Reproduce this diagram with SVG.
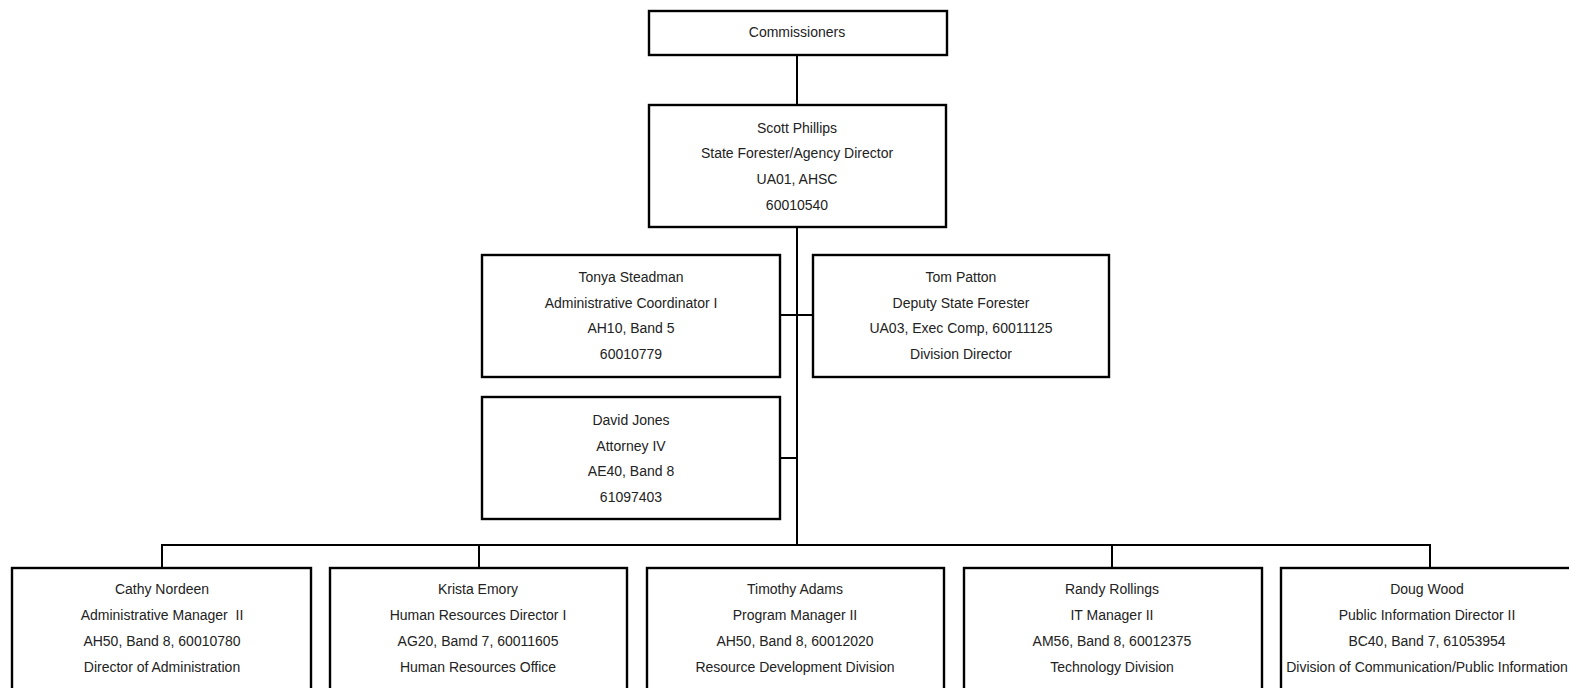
<svg xmlns="http://www.w3.org/2000/svg" width="1569" height="688" viewBox="0 0 1569 688">
<style>
.box{fill:#fff;stroke:#000;stroke-width:2.4}
.ln{fill:none;stroke:#000;stroke-width:2}
text{font-family:"Liberation Sans Narrow","Liberation Sans",Arial,sans-serif;font-size:14px;fill:#222;text-anchor:middle;dominant-baseline:central;white-space:pre}
</style>
<rect width="1569" height="688" fill="#fff"/>
<g id="connectors">
<path class="ln" d="M797 55V545M780 315H813M780 458H797M162 568V545H1430V568M479 545V568M1112 545V568"/>
</g>
<g id="commissioners"><rect class="box" x="649" y="11" width="298" height="44"/><text x="797" y="32">Commissioners</text></g>
<g id="scott"><rect class="box" x="649" y="105" width="297" height="122"/>
<text x="797" y="128">Scott Phillips</text><text x="797" y="153">State Forester/Agency Director</text><text x="797" y="179">UA01, AHSC</text><text x="797" y="205">60010540</text></g>
<g id="tonya"><rect class="box" x="482" y="255" width="298" height="122"/>
<text x="631" y="277">Tonya Steadman</text><text x="631" y="303">Administrative Coordinator I</text><text x="631" y="328">AH10, Band 5</text><text x="631" y="354">60010779</text></g>
<g id="tom"><rect class="box" x="813" y="255" width="296" height="122"/>
<text x="961" y="277">Tom Patton</text><text x="961" y="303">Deputy State Forester</text><text x="961" y="328">UA03, Exec Comp, 60011125</text><text x="961" y="354">Division Director</text></g>
<g id="david"><rect class="box" x="482" y="397" width="298" height="122"/>
<text x="631" y="420">David Jones</text><text x="631" y="446">Attorney IV</text><text x="631" y="471">AE40, Band 8</text><text x="631" y="497">61097403</text></g>
<g id="cathy"><rect class="box" x="12" y="568" width="299" height="140"/>
<text x="162" y="589">Cathy Nordeen</text><text x="162" y="615" xml:space="preserve">Administrative Manager  II</text><text x="162" y="641">AH50, Band 8, 60010780</text><text x="162" y="667">Director of Administration</text></g>
<g id="krista"><rect class="box" x="330" y="568" width="297" height="140"/>
<text x="478" y="589">Krista Emory</text><text x="478" y="615">Human Resources Director I</text><text x="478" y="641">AG20, Bamd 7, 60011605</text><text x="478" y="667">Human Resources Office</text></g>
<g id="timothy"><rect class="box" x="647" y="568" width="297" height="140"/>
<text x="795" y="589">Timothy Adams</text><text x="795" y="615">Program Manager II</text><text x="795" y="641">AH50, Band 8, 60012020</text><text x="795" y="667">Resource Development Division</text></g>
<g id="randy"><rect class="box" x="964" y="568" width="298" height="140"/>
<text x="1112" y="589">Randy Rollings</text><text x="1112" y="615">IT Manager II</text><text x="1112" y="641">AM56, Band 8, 60012375</text><text x="1112" y="667">Technology Division</text></g>
<g id="doug"><rect class="box" x="1281" y="568" width="320" height="140"/>
<text x="1427" y="589">Doug Wood</text><text x="1427" y="615">Public Information Director II</text><text x="1427" y="641">BC40, Band 7, 61053954</text><text x="1427" y="667">Division of Communication/Public Information</text></g>
</svg>
